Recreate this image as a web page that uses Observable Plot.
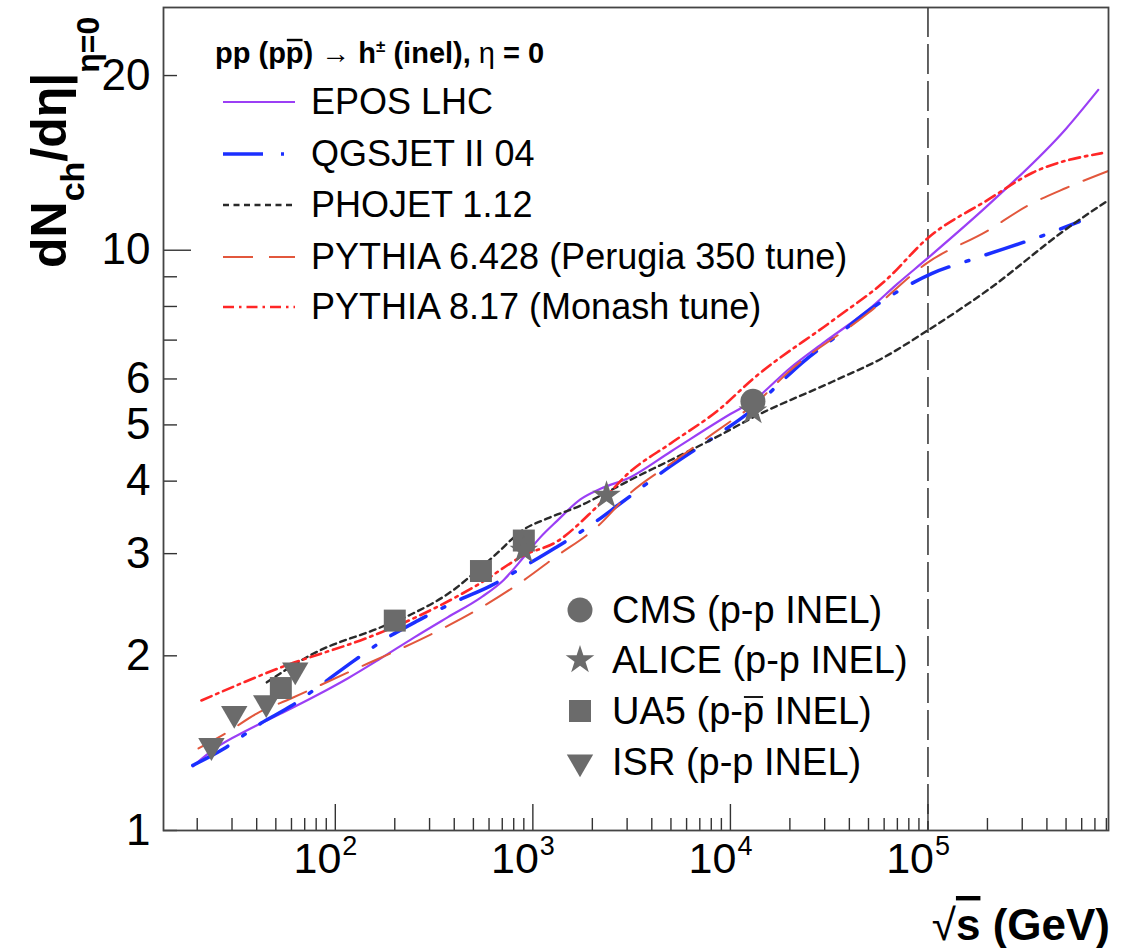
<!DOCTYPE html>
<html><head><meta charset="utf-8">
<script src="https://cdn.jsdelivr.net/npm/d3@7"></script>
<script src="https://cdn.jsdelivr.net/npm/@observablehq/plot@0.6"></script>
<style>body{margin:0;background:#fff;} svg{display:block}</style>
</head><body><div id="chart"></div>
<script>
// ---------- data (sqrt(s) in GeV, dNch/deta at eta=0) ----------
const eposE = [19, 25, 36, 53, 78, 116, 170, 250, 370, 545, 710, 900, 1090, 1330, 1740, 2200, 3100, 5000, 1e4, 1.3e4, 2e4, 3e4, 5e4, 7e4, 1e5, 2.12e5, 5e5, 7.28e5];
const eposV = [1.29, 1.39, 1.49, 1.59, 1.70, 1.83, 1.98, 2.15, 2.33, 2.52, 2.70, 2.96, 3.20, 3.42, 3.72, 3.88, 4.06, 4.50, 5.22, 5.50, 6.26, 6.95, 7.9, 8.75, 9.7, 12.15, 16.2, 18.9];

const qgsE = [19, 27.4, 42, 60, 88, 124, 184, 262, 417, 611, 918, 1300, 2016, 2770, 5000, 8850, 1.28e4, 1.73e4, 2.32e4, 3.59e4, 4.66e4, 7.19e4, 1.05e5, 1.75e5, 4.12e5, 5.83e5];
const qgsV = [1.295, 1.385, 1.53, 1.64, 1.80, 1.96, 2.15, 2.30, 2.49, 2.64, 2.86, 3.07, 3.38, 3.66, 4.25, 4.84, 5.30, 5.85, 6.41, 7.19, 7.73, 8.53, 9.12, 9.69, 10.7, 11.2];

const phoE = [45, 78, 170, 250, 398, 500, 635, 897, 1186, 1742, 2276, 3120, 5000, 8850, 1.3e4, 3.3e4, 6e4, 1e5, 2e5, 5e5, 8.2e5];
const phoV = [1.80, 2.02, 2.24, 2.37, 2.60, 2.77, 2.97, 3.30, 3.45, 3.63, 3.80, 4.02, 4.35, 4.80, 5.15, 5.94, 6.54, 7.28, 8.53, 10.87, 12.2];

const py6E = [20.3, 27.8, 40, 60, 146, 197, 350, 544, 900, 1300, 2100, 3100, 5000, 1e4, 1.3e4, 2e4, 5e4, 1e5, 2e5, 3.15e5, 5e5, 8.2e5];
const py6V = [1.385, 1.47, 1.59, 1.69, 1.94, 2.03, 2.23, 2.42, 2.70, 2.96, 3.33, 3.81, 4.29, 5.07, 5.40, 6.2, 7.8, 9.53, 10.8, 11.9, 12.8, 13.7];

const py8E = [21, 53, 146, 197, 544, 900, 1330, 2000, 3100, 5000, 8850, 1.3e4, 3.3e4, 6.1e4, 1e5, 2e5, 3.38e5, 7.6e5];
const py8V = [1.675, 1.91, 2.15, 2.24, 2.67, 2.98, 3.15, 3.55, 4.15, 4.65, 5.33, 6.0, 7.57, 8.87, 10.5, 12.2, 13.6, 14.7];

const cmsE = [13000];            const cmsV = [5.49];
const aliceE = [900, 2360, 13000]; const aliceV = [3.04, 3.78, 5.28];
const ua5E = [53, 200, 546, 900];  const ua5V = [1.76, 2.30, 2.80, 3.16];
const isrE = [23.6, 30.8, 44.7, 62.7]; const isrV = [1.40, 1.59, 1.66, 1.89];

const modelNames = ["EPOS LHC", "QGSJET II 04", "PHOJET 1.12", "PYTHIA 6.428 (Perugia 350 tune)", "PYTHIA 8.17 (Monash tune)"];
const dataNames = ["CMS (p-p INEL)", "ALICE (p-p INEL)", "UA5 (p-p INEL)", "ISR (p-p INEL)"];
const yTickLabels = [1, 2, 3, 4, 5, 6, 10, 20];
const xMajorTicks = [1e2, 1e3, 1e4, 1e5];
const xExponents = ["2", "3", "4", "5"];
const lhcLimit = [1e5];

// ---------- styles ----------
const FONT = "'Liberation Sans', Arial, Helvetica, sans-serif";
const styles = [
  {stroke: "#9b3ff5", strokeWidth: 2.2, dash: null},
  {stroke: "#1b2fff", strokeWidth: 3.5, dash: "40,18,3,18"},
  {stroke: "#2a2a2a", strokeWidth: 2.4, dash: "6,4.5"},
  {stroke: "#e2573c", strokeWidth: 2, dash: "30,16"},
  {stroke: "#ff2626", strokeWidth: 2.6, dash: "11,5,2.5,5"}
];
const MARK = "#6b6b6b";

const W = 1132, H = 948, mL = 163, mR = 24, mT = 7, mB = 118;
const innerW = W - mL - mR, innerH = H - mT - mB;
const xDomain = [13.5, 8.2e5], yDomain = [1, 26.2];

const xAll = d3.scaleLog().domain(xDomain).ticks();
const xMinor = xAll.filter(t => !xMajorTicks.includes(t));
const yAll = d3.scaleLog().domain(yDomain).ticks();
const yMajor = [10];
const yMinor = yAll.filter(t => !yMajor.includes(t));

const triDown = {
  draw(ctx, size) {
    const y = Math.sqrt(size / (Math.sqrt(3) * 3));
    ctx.moveTo(0, 2 * y);
    ctx.lineTo(-Math.sqrt(3) * y, -y);
    ctx.lineTo(Math.sqrt(3) * y, -y);
    ctx.closePath();
  }
};

const series = [[eposE, eposV], [qgsE, qgsV], [phoE, phoV], [py6E, py6V], [py8E, py8V]];
const curveMarks = series.map(([E, V], i) => Plot.line(E, {
  x: E, y: V, curve: "monotone-x", stroke: styles[i].stroke, strokeWidth: styles[i].strokeWidth,
  strokeDasharray: styles[i].dash, clip: true
}));

const plot = Plot.plot({
  width: W, height: H,
  marginLeft: mL, marginRight: mR, marginTop: mT, marginBottom: mB,
  style: {background: "white", fontFamily: FONT, color: "#000", overflow: "visible"},
  x: {type: "log", domain: xDomain, axis: null},
  y: {type: "log", domain: yDomain, axis: null},
  marks: [
    Plot.ruleX(lhcLimit, {stroke: "#222", strokeWidth: 1.4, strokeDasharray: "30,7"}),
    ...curveMarks,
    Plot.dot(ua5E, {x: ua5E, y: ua5V, r: 12.4, symbol: "square", fill: MARK}),
    Plot.dot(isrE, {x: isrE, y: isrV, r: 9.8, symbol: triDown, fill: MARK}),
    Plot.dot(aliceE, {x: aliceE, y: aliceV, r: 9, symbol: "star", fill: MARK}),
    Plot.dot(cmsE, {x: cmsE, y: cmsV, r: 12.5, symbol: "circle", fill: MARK}),
    Plot.tickX(xMinor, {x: d => d, insetTop: innerH - 12, stroke: "#333", strokeWidth: 1.4}),
    Plot.tickX(xMajorTicks, {x: d => d, insetTop: innerH - 26, stroke: "#333", strokeWidth: 1.4}),
    Plot.tickY(yMinor, {y: d => d, insetRight: innerW - 14, stroke: "#333", strokeWidth: 1.4}),
    Plot.tickY(yMajor, {y: d => d, insetRight: innerW - 28, stroke: "#333", strokeWidth: 1.4}),
    Plot.frame({stroke: "#444", strokeWidth: 1.8}),
    Plot.text(yTickLabels, {y: d => d, text: d => String(d), frameAnchor: "left", textAnchor: "end", dx: -13, fontSize: 44, fill: "#000"}),
    Plot.text(xMajorTicks, {x: d => d, text: () => "10", frameAnchor: "bottom", textAnchor: "end", lineAnchor: "bottom", dx: 6, dy: 42, fontSize: 43, fill: "#000"}),
    Plot.text(xMajorTicks, {x: d => d, text: (d, i) => xExponents[i], frameAnchor: "bottom", textAnchor: "start", lineAnchor: "bottom", dx: 7, dy: 24, fontSize: 27, fill: "#000"})
  ]
});
document.getElementById("chart").appendChild(plot);

// ---------- legends & axis titles ----------
const svg = d3.select(plot);
const g = svg.append("g").attr("font-family", FONT).attr("fill", "#000").attr("text-anchor", "start");

// helper: draw a bar over one character of a text element
function barOver(textSel, charIndex, yOffset, width) {
  const node = textSel.node();
  const a = node.getStartPositionOfChar(charIndex), b = node.getEndPositionOfChar(charIndex);
  g.append("line").attr("x1", a.x + 1).attr("x2", b.x - 1).attr("y1", a.y - yOffset).attr("y2", a.y - yOffset)
    .attr("stroke", "#000").attr("stroke-width", width);
}

// header
const hdr = g.append("text").attr("x", 215).attr("y", 63).attr("font-size", 29).attr("font-weight", "bold");
hdr.append("tspan").text("pp (pp) \u2192 h");
hdr.append("tspan").text("\u00b1").attr("font-size", 17).attr("dy", -11);
hdr.append("tspan").text(" (inel), ").attr("dy", 11);
hdr.append("tspan").text("\u03b7").attr("font-weight", "normal");
hdr.append("tspan").text(" = 0");
barOver(hdr, 5, 23, 2.4);

const leg1Y = [102, 154, 205, 257, 307];
modelNames.forEach((name, i) => {
  const s = styles[i];
  g.append("line").attr("x1", 223).attr("x2", 295).attr("y1", leg1Y[i]).attr("y2", leg1Y[i])
    .attr("stroke", s.stroke).attr("stroke-width", s.strokeWidth).attr("stroke-dasharray", s.dash);
  g.append("text").attr("x", 311).attr("y", leg1Y[i] + 12).attr("font-size", 36).text(name);
});

// marker legend
const leg2 = [
  {sym: d3.symbolCircle, r: 12.5, y: 610},
  {sym: d3.symbolStar, r: 9, y: 660},
  {sym: d3.symbolSquare, r: 12.4, y: 711},
  {sym: triDown, r: 9.8, y: 762}
];
leg2.forEach((e, i) => {
  g.append("path").attr("transform", `translate(580,${e.y})`)
    .attr("d", d3.symbol(e.sym, Math.PI * e.r * e.r)()).attr("fill", MARK);
  const t = g.append("text").attr("x", 612).attr("y", e.y + 13).attr("font-size", 38).text(dataNames[i]);
  if (i === 2) barOver(t, 7, 27, 1.8);
});

// y title
const yt = g.append("text").attr("transform", "translate(66,268) rotate(-90)")
  .attr("font-size", 50).attr("font-weight", "bold");
yt.append("tspan").text("dN");
yt.append("tspan").text("ch").attr("font-size", 34).attr("dy", 18);
yt.append("tspan").text("/d\u03b7|").attr("dy", -18);
yt.append("tspan").text("\u03b7=0").attr("font-size", 32).attr("dy", 33);

// x title
const xt = g.append("text").attr("x", 1110).attr("y", 940).attr("text-anchor", "end")
  .attr("font-size", 44).attr("font-weight", "bold");
xt.append("tspan").text("\u221a").attr("font-weight", "normal");
xt.append("tspan").text("s").attr("text-decoration", "overline");
xt.append("tspan").text(" (GeV)");
</script>
</body></html>
